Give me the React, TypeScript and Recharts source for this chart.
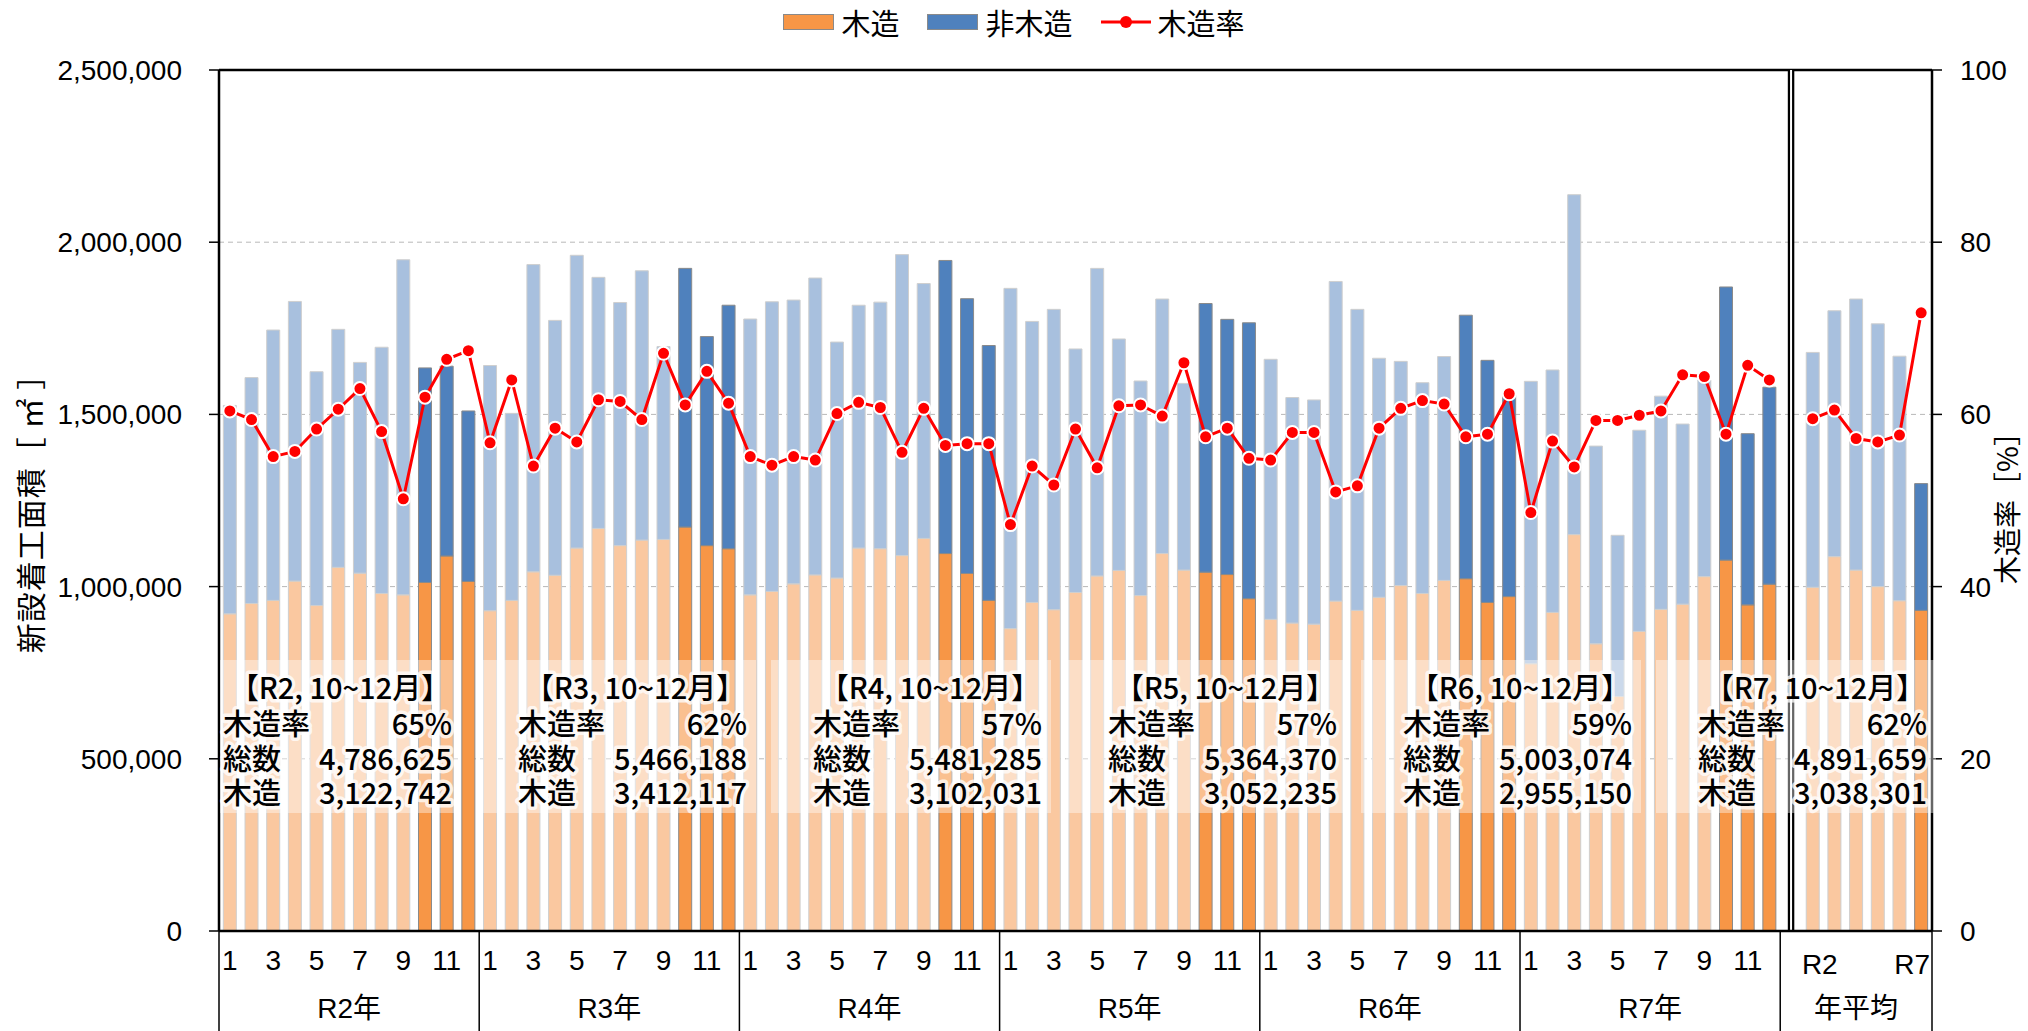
import {
  Bar,
  CartesianGrid,
  Cell,
  ComposedChart,
  Legend,
  Line,
  ReferenceLine,
  XAxis,
  YAxis,
} from 'recharts';

const W = 2028;
const H = 1031;

const JP = '"Noto Sans CJK JP", "Noto Sans", sans-serif';
const NUM = '"Liberation Sans", "Noto Sans CJK JP", sans-serif';

const YEARS = ['R2', 'R3', 'R4', 'R5', 'R6', 'R7'];
const MONTHS = [1, 2, 3, 4, 5, 6, 7, 8, 9, 10, 11, 12];

// 新設着工面積（総数）[㎡]
const TOTAL_R2 = [1526000, 1607000, 1745000, 1828000, 1624000, 1747000, 1651000, 1695000, 1949000, 1635000, 1640000, 1510000];
const TOTAL_R3 = [1642000, 1503000, 1935000, 1773000, 1962000, 1898000, 1825000, 1917000, 1697000, 1924000, 1726000, 1817000];
const TOTAL_R4 = [1777000, 1827000, 1832000, 1896000, 1710000, 1817000, 1826000, 1964000, 1880000, 1947000, 1836000, 1700000];
const TOTAL_R5 = [1866000, 1770000, 1805000, 1690000, 1924000, 1719000, 1597000, 1835000, 1590000, 1822000, 1776000, 1766000];
const TOTAL_R6 = [1660000, 1549000, 1542000, 1886000, 1805000, 1663000, 1654000, 1592000, 1668000, 1788000, 1657000, 1555000];
const TOTAL_R7 = [1596000, 1629000, 2138000, 1408000, 1149000, 1454000, 1553000, 1472000, 1600000, 1870000, 1444000, 1579000];

// 木造 [㎡]
const WOOD_R2 = [921000, 951000, 960000, 1016000, 945000, 1056000, 1039000, 980000, 976000, 1012000, 1089000, 1015000];
const WOOD_R3 = [930000, 960000, 1043000, 1033000, 1112000, 1169000, 1119000, 1135000, 1137000, 1173000, 1119000, 1110000];
const WOOD_R4 = [976000, 986000, 1008000, 1034000, 1025000, 1112000, 1110000, 1090000, 1140000, 1096000, 1038000, 960000];
const WOOD_R5 = [878000, 954000, 933000, 983000, 1031000, 1047000, 974000, 1096000, 1048000, 1042000, 1035000, 965000];
const WOOD_R6 = [905000, 894000, 891000, 958000, 931000, 969000, 1003000, 980000, 1018000, 1023000, 954000, 971000];
const WOOD_R7 = [776000, 925000, 1151000, 834000, 681000, 870000, 934000, 949000, 1029000, 1077000, 947000, 1007000];

// 木造率 [%]
const RATE_R2 = [60.4, 59.4, 55.1, 55.7, 58.3, 60.6, 63.0, 58.0, 50.2, 62.0, 66.4, 67.4];
const RATE_R3 = [56.7, 64.0, 54.0, 58.4, 56.8, 61.7, 61.5, 59.4, 67.1, 61.1, 65.0, 61.3];
const RATE_R4 = [55.1, 54.1, 55.1, 54.7, 60.1, 61.4, 60.8, 55.6, 60.7, 56.4, 56.6, 56.6];
const RATE_R5 = [47.2, 54.0, 51.8, 58.3, 53.8, 61.0, 61.1, 59.8, 66.0, 57.4, 58.4, 54.9];
const RATE_R6 = [54.7, 57.9, 57.9, 51.0, 51.7, 58.4, 60.7, 61.6, 61.2, 57.4, 57.7, 62.4];
const RATE_R7 = [48.6, 56.9, 53.9, 59.3, 59.3, 59.9, 60.4, 64.6, 64.4, 57.7, 65.7, 64.0];

// 年平均
const AVG_TOTAL = [1680000, 1801000, 1835000, 1763000, 1669000, 1299000];
const AVG_WOOD = [998000, 1087000, 1048000, 1000000, 959000, 931000];
const AVG_RATE = [59.5, 60.5, 57.2, 56.8, 57.6, 71.8];
const AVG_HIGHLIGHT = [false, false, false, false, false, true];

// 10~12月 の注記
const NOTE_YEARS = ['R2', 'R3', 'R4', 'R5', 'R6', 'R7'];
const NOTE_RATE = ['65%', '62%', '57%', '57%', '59%', '62%'];
const NOTE_TOTAL = ['4,786,625', '5,466,188', '5,481,285', '5,364,370', '5,003,074', '4,891,659'];
const NOTE_WOOD = ['3,122,742', '3,412,117', '3,102,031', '3,052,235', '2,955,150', '3,038,301'];

const LEFT_TICKS = [0, 500000, 1000000, 1500000, 2000000, 2500000];
const RIGHT_TICKS = [0, 20, 40, 60, 80, 100];

const TOTALS = [TOTAL_R2, TOTAL_R3, TOTAL_R4, TOTAL_R5, TOTAL_R6, TOTAL_R7];
const WOODS = [WOOD_R2, WOOD_R3, WOOD_R4, WOOD_R5, WOOD_R6, WOOD_R7];
const RATES = [RATE_R2, RATE_R3, RATE_R4, RATE_R5, RATE_R6, RATE_R7];

interface Row {
  key: string;
  label: string;
  wood: number | null;
  nonWood: number | null;
  rate: number | null;
  dark: boolean;
}

const rows: Row[] = [];
YEARS.forEach((y, yi) => {
  MONTHS.forEach((m, mi) => {
    rows.push({
      key: `${y}-${m}`,
      label: String(m),
      wood: WOODS[yi][mi],
      nonWood: TOTALS[yi][mi] - WOODS[yi][mi],
      rate: RATES[yi][mi],
      dark: m >= 10,
    });
  });
});
rows.push({ key: 'gap', label: '', wood: null, nonWood: null, rate: null, dark: false });
YEARS.forEach((y, i) => {
  rows.push({
    key: `avg-${y}`,
    label: y,
    wood: AVG_WOOD[i],
    nonWood: AVG_TOTAL[i] - AVG_WOOD[i],
    rate: AVG_RATE[i],
    dark: AVG_HIGHLIGHT[i],
  });
});

const PLOT_W = 1932 - 219;
const SLOT = PLOT_W / rows.length;

const ORANGE = '#F79646';
const ORANGE_LIGHT = '#FAC8A0';
const BLUE = '#4F81BD';
const BLUE_LIGHT = '#A8C0DE';

function AxisTick(props: any) {
  const { x, y, index } = props;
  const half = SLOT / 2;
  const bottom = H - y;
  const out: any[] = [];
  const textStyle = { fontFamily: NUM, fontSize: 28, fill: '#000' };

  if (index < 72) {
    const mi = index % 12;
    if (mi % 2 === 0) {
      out.push(
        <text key="m" x={x} y={y + 29} textAnchor="middle" dominantBaseline="central" style={textStyle}>
          {rows[index].label}
        </text>,
      );
    }
    if (mi === 0) {
      out.push(<line key="d" x1={x - half} x2={x - half} y1={y} y2={y + bottom} stroke="#000" strokeWidth={1.5} />);
    }
    if (mi === 5) {
      out.push(
        <text key="g" x={x + half} y={y + 77} textAnchor="middle" dominantBaseline="central" style={textStyle}>
          {`${YEARS[Math.floor(index / 12)]}年`}
        </text>,
      );
    }
  } else if (index === 72) {
    out.push(<line key="d" x1={x - half} x2={x - half} y1={y} y2={y + bottom} stroke="#000" strokeWidth={1.5} />);
  } else {
    if (index === 73) {
      out.push(
        <text key="a" x={x - half} y={y + 33} textAnchor="start" dominantBaseline="central" style={textStyle}>
          {rows[index].label}
        </text>,
      );
    }
    if (index === 75) {
      out.push(
        <text key="g" x={x} y={y + 77} textAnchor="middle" dominantBaseline="central" style={textStyle}>
          年平均
        </text>,
      );
    }
    if (index === 78) {
      out.push(
        <text key="a" x={x + half - 2} y={y + 33} textAnchor="end" dominantBaseline="central" style={textStyle}>
          {rows[index].label}
        </text>,
      );
      out.push(<line key="r" x1={x + half} x2={x + half} y1={y} y2={y + bottom} stroke="#000" strokeWidth={1.5} />);
    }
  }
  return <g>{out}</g>;
}

function LegendContent() {
  const item = { display: 'flex', alignItems: 'center', marginRight: 28 };
  const label = { fontFamily: JP, fontSize: 29, color: '#000', marginLeft: 7, lineHeight: '36px' };
  return (
    <div style={{ display: 'flex', justifyContent: 'center', alignItems: 'center', width: W }}>
      <div style={item}>
        <div style={{ width: 49, height: 14, background: ORANGE, border: '1px solid #8a8a8a' }} />
        <span style={label}>木造</span>
      </div>
      <div style={item}>
        <div style={{ width: 49, height: 14, background: BLUE, border: '1px solid #8a8a8a' }} />
        <span style={label}>非木造</span>
      </div>
      <div style={{ ...item, marginRight: 0 }}>
        <svg width={50} height={16}>
          <line x1={0} x2={50} y1={8} y2={8} stroke="#FF0000" strokeWidth={3} />
          <circle cx={25} cy={8} r={6} fill="#FF0000" />
        </svg>
        <span style={label}>木造率</span>
      </div>
    </div>
  );
}

function Notes() {
  const glow = {
    fontFamily: JP,
    fontSize: 29,
    fontWeight: 500,
    fill: '#000',
    stroke: 'rgba(255,255,255,0.75)',
    strokeWidth: 7,
    strokeLinejoin: 'round' as const,
    paintOrder: 'stroke' as const,
  };
  return (
    <svg width={W} height={H} style={{ position: 'absolute', left: 0, top: 0, pointerEvents: 'none' }}>
      {NOTE_YEARS.map((y, i) => {
        const left = 223 + 295 * i;
        const boxL = Math.max(220, left - 42);
        return (
          <g key={y}>
            <rect x={boxL} y={660} width={left + 238 - boxL} height={153} fill="rgba(255,255,255,0.4)" />
            <text x={left + 117} y={686} textAnchor="middle" dominantBaseline="central" style={glow}>
              {`【${y}, 10~12月】`}
            </text>
            <text x={left} y={722} dominantBaseline="central" style={glow}>木造率</text>
            <text x={left + 229} y={722} textAnchor="end" dominantBaseline="central" style={glow}>
              {NOTE_RATE[i]}
            </text>
            <text x={left} y={757} dominantBaseline="central" style={glow}>総数</text>
            <text x={left + 229} y={757} textAnchor="end" dominantBaseline="central" style={glow}>
              {NOTE_TOTAL[i]}
            </text>
            <text x={left} y={791} dominantBaseline="central" style={glow}>木造</text>
            <text x={left + 229} y={791} textAnchor="end" dominantBaseline="central" style={glow}>
              {NOTE_WOOD[i]}
            </text>
          </g>
        );
      })}
      <text
        x={29}
        y={506}
        transform="rotate(-90 29 506)"
        textAnchor="middle"
        dominantBaseline="central"
        style={{ fontFamily: JP, fontSize: 30, letterSpacing: 1, fill: '#000' }}
      >
        新設着工面積［ ㎡ ］
      </text>
      <text
        x={2006}
        y={501}
        transform="rotate(-90 2006 501)"
        textAnchor="middle"
        dominantBaseline="central"
        style={{ fontFamily: JP, fontSize: 28, fill: '#000' }}
      >
        木造率［%］
      </text>
    </svg>
  );
}

export default function App() {
  return (
    <div style={{ position: 'absolute', left: 0, top: 0, width: W, height: H, background: '#fff' }}>
      <ComposedChart
        width={W}
        height={H}
        data={rows}
        margin={{ top: 70, right: 0, bottom: 0, left: 0 }}
        barCategoryGap="20%"
      >
        <CartesianGrid yAxisId="left" vertical={false} stroke="#b8b8b8" strokeDasharray="5 4" />
        <XAxis
          dataKey="key"
          interval={0}
          height={100}
          tickLine={false}
          tickSize={0}
          tickMargin={0}
          axisLine={{ stroke: '#000', strokeWidth: 2.5 }}
          tick={<AxisTick />}
        />
        <YAxis
          yAxisId="left"
          width={219}
          domain={[0, 2500000]}
          ticks={LEFT_TICKS}
          tickFormatter={(v: number) => v.toLocaleString('en-US')}
          tick={{ fontFamily: NUM, fontSize: 28, fill: '#000' }}
          tickSize={10}
          tickMargin={27}
          tickLine={{ stroke: '#000', strokeWidth: 1.5 }}
          axisLine={{ stroke: '#000', strokeWidth: 2.5 }}
        />
        <YAxis
          yAxisId="right"
          orientation="right"
          width={96}
          domain={[0, 100]}
          ticks={RIGHT_TICKS}
          tick={{ fontFamily: NUM, fontSize: 28, fill: '#000', textAnchor: 'start' }}
          tickSize={10}
          tickMargin={18}
          tickLine={{ stroke: '#000', strokeWidth: 1.5 }}
          axisLine={{ stroke: '#000', strokeWidth: 2.5 }}
        />
        <Legend
          verticalAlign="middle"
          layout="horizontal"
          wrapperStyle={{ top: 4, left: 0, width: W }}
          content={<LegendContent />}
        />
        <Bar yAxisId="left" dataKey="wood" stackId="a" isAnimationActive={false}>
          {rows.map((r) => (
            <Cell
              key={r.key}
              fill={r.dark ? ORANGE : ORANGE_LIGHT}
              stroke={r.dark ? '#8a8a8a' : '#cfcfcf'}
              strokeWidth={1}
            />
          ))}
        </Bar>
        <Bar yAxisId="left" dataKey="nonWood" stackId="a" isAnimationActive={false}>
          {rows.map((r) => (
            <Cell
              key={r.key}
              fill={r.dark ? BLUE : BLUE_LIGHT}
              stroke={r.dark ? '#8a8a8a' : '#cfcfcf'}
              strokeWidth={1}
            />
          ))}
        </Bar>
        <ReferenceLine yAxisId="left" y={2500000} stroke="#000" strokeWidth={2.5} />
        <ReferenceLine yAxisId="left" x="gap" stroke="#000" strokeWidth={6.5} />
        <ReferenceLine yAxisId="left" x="gap" stroke="#fff" strokeWidth={2} />
        <Line
          yAxisId="right"
          dataKey="rate"
          stroke="#FF0000"
          strokeWidth={3}
          dot={{ r: 6.5, fill: '#FF0000', stroke: '#fff', strokeWidth: 2 }}
          activeDot={false}
          connectNulls={false}
          isAnimationActive={false}
        />
      </ComposedChart>
      <Notes />
    </div>
  );
}
